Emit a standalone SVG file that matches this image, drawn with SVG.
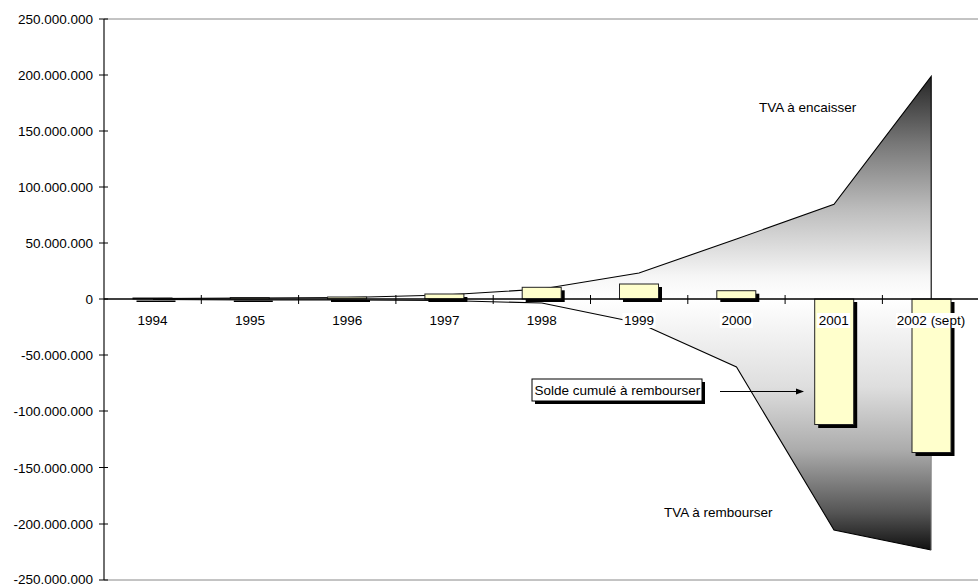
<svg xmlns="http://www.w3.org/2000/svg" width="978" height="586" viewBox="0 0 978 586">
<style>
text{font-family:"Liberation Sans",Arial,sans-serif;font-size:13.5px;fill:#000}
.yl{text-anchor:end}
.xl{text-anchor:middle}
.bar{fill:#FFFFCC;stroke:#222;stroke-width:1}
.sh{fill:#000}
.ln{fill:none;stroke:#000;stroke-width:1.1}
.lbg{fill:#fff}
</style>
<defs>
<linearGradient id="gUp" x1="0" y1="0" x2="0" y2="1">
<stop offset="0" stop-color="#262626"/>
<stop offset="0.3" stop-color="#777"/>
<stop offset="0.6" stop-color="#bdbdbd"/>
<stop offset="0.9" stop-color="#f6f6f6"/>
<stop offset="1" stop-color="#fff"/>
</linearGradient>
<linearGradient id="gDn" x1="0" y1="0" x2="0" y2="1">
<stop offset="0" stop-color="#fff"/>
<stop offset="0.35" stop-color="#dedede"/>
<stop offset="0.6" stop-color="#acacac"/>
<stop offset="0.85" stop-color="#555"/>
<stop offset="1" stop-color="#111"/>
</linearGradient>
<marker id="ah" markerWidth="8" markerHeight="8" refX="7" refY="4" orient="auto" markerUnits="userSpaceOnUse">
<path d="M0,1 L8,4 L0,7 Z" fill="#000"/>
</marker>
</defs>

<g id="frame">
<line x1="104" y1="19" x2="978" y2="19" stroke="#888" stroke-width="1"/>
<line x1="104" y1="580" x2="978" y2="580" stroke="#888" stroke-width="1"/>
</g>

<g id="areas">
<polygon id="tva-encaisser-area" fill="url(#gUp)" points="153,299 153,298.5 250,298 347,297.5 444.5,295 541.8,289 639,273 736.5,239 834,204.3 931.2,76.5 931.2,299"/>
<polygon id="tva-rembourser-area" fill="url(#gDn)" points="153,299 153,299.5 250,300 347,300 444.5,300.5 541.8,303 639,323 736.5,367 834,530 931.2,550 931.2,299"/>
</g>

<g id="connectors">
<polyline class="ln" points="153,298.5 250,298 347,297.5 444.5,295 541.8,289 639,273 736.5,239 834,204.3 931.2,76.5 931.2,299"/>
<polyline class="ln" points="153,299.5 250,300 347,300 444.5,300.5 541.8,303 639,323 736.5,367 834,530 931.2,550"/>
<line x1="931.2" y1="550" x2="931.2" y2="299" stroke="#888" stroke-width="1"/>
<line x1="720" y1="391.5" x2="803" y2="391.5" stroke="#000" stroke-width="1" marker-end="url(#ah)"/>
</g>

<g id="bars">
<g id="bar-1994"><rect class="sh" x="136.5" y="300.5" width="39" height="1.5"/><rect class="bar" x="133" y="298" width="39" height="1"/></g>
<g id="bar-1995"><rect class="sh" x="233.8" y="300.5" width="39" height="1.5"/><rect class="bar" x="230.3" y="297.5" width="39" height="1.5"/></g>
<g id="bar-1996"><rect class="sh" x="331" y="300" width="39" height="2"/><rect class="bar" x="327.6" y="297" width="39" height="2"/></g>
<g id="bar-1997"><rect class="sh" x="428.4" y="297" width="39" height="5"/><rect class="bar" x="424.9" y="294" width="39" height="5"/></g>
<g id="bar-1998"><rect class="sh" x="525.7" y="290.3" width="39" height="11.7"/><rect class="bar" x="522.2" y="287.3" width="39" height="11.7"/></g>
<g id="bar-1999"><rect class="sh" x="623" y="287" width="39" height="15"/><rect class="bar" x="619.5" y="284" width="39" height="15"/></g>
<g id="bar-2000"><rect class="sh" x="720.3" y="293.7" width="39" height="8.3"/><rect class="bar" x="716.8" y="290.7" width="39" height="8.3"/></g>
<g id="bar-2001"><rect class="sh" x="818.2" y="302" width="39" height="126"/><rect class="bar" x="814.7" y="299" width="39" height="125.5"/></g>
<g id="bar-2002"><rect class="sh" x="915.5" y="302" width="39" height="154"/><rect class="bar" x="912" y="299" width="39" height="153.5"/></g>
</g>

<g id="axes" stroke="#000">
<line x1="104" y1="19" x2="104" y2="580" stroke="#222" stroke-width="1.3"/>
<line x1="104" y1="299" x2="978" y2="299" stroke-width="1.5"/>
<g stroke-width="1">
<line x1="99" y1="19" x2="108" y2="19"/>
<line x1="99" y1="75" x2="108" y2="75"/>
<line x1="99" y1="131" x2="108" y2="131"/>
<line x1="99" y1="187" x2="108" y2="187"/>
<line x1="99" y1="243" x2="108" y2="243"/>
<line x1="99" y1="299" x2="108" y2="299"/>
<line x1="99" y1="355" x2="108" y2="355"/>
<line x1="99" y1="411" x2="108" y2="411"/>
<line x1="99" y1="467.5" x2="108" y2="467.5"/>
<line x1="99" y1="524" x2="108" y2="524"/>
<line x1="99" y1="580" x2="108" y2="580"/>
<line x1="201.3" y1="295" x2="201.3" y2="304"/>
<line x1="298.6" y1="295" x2="298.6" y2="304"/>
<line x1="395.9" y1="295" x2="395.9" y2="304"/>
<line x1="493.2" y1="295" x2="493.2" y2="304"/>
<line x1="590.5" y1="295" x2="590.5" y2="304"/>
<line x1="687.8" y1="295" x2="687.8" y2="304"/>
<line x1="785.1" y1="295" x2="785.1" y2="304"/>
<line x1="882.4" y1="295" x2="882.4" y2="304"/>
</g>
</g>

<g id="y-labels">
<text class="yl" x="93" y="24">250.000.000</text>
<text class="yl" x="93" y="80">200.000.000</text>
<text class="yl" x="93" y="136">150.000.000</text>
<text class="yl" x="93" y="192">100.000.000</text>
<text class="yl" x="93" y="248">50.000.000</text>
<text class="yl" x="93" y="304">0</text>
<text class="yl" x="93" y="360">-50.000.000</text>
<text class="yl" x="93" y="416">-100.000.000</text>
<text class="yl" x="93" y="472.5">-150.000.000</text>
<text class="yl" x="93" y="529">-200.000.000</text>
<text class="yl" x="93" y="583.5">-250.000.000</text>
</g>

<g id="x-labels">
<rect class="lbg" x="136" y="313" width="33" height="15"/><text class="xl" x="152.6" y="325">1994</text>
<rect class="lbg" x="233.3" y="313" width="33" height="15"/><text class="xl" x="249.9" y="325">1995</text>
<rect class="lbg" x="330.6" y="313" width="33" height="15"/><text class="xl" x="347.2" y="325">1996</text>
<rect class="lbg" x="427.9" y="313" width="33" height="15"/><text class="xl" x="444.5" y="325">1997</text>
<rect class="lbg" x="525.2" y="313" width="33" height="15"/><text class="xl" x="541.8" y="325">1998</text>
<rect class="lbg" x="622.5" y="313" width="33" height="15"/><text class="xl" x="639.1" y="325">1999</text>
<rect class="lbg" x="719.8" y="313" width="33" height="15"/><text class="xl" x="736.4" y="325">2000</text>
<rect class="lbg" x="817.1" y="313" width="33" height="15"/><text class="xl" x="833.7" y="325">2001</text>
<rect class="lbg" x="896" y="313" width="70" height="15"/><text class="xl" x="931" y="325">2002 (sept)</text>
</g>

<g id="label-encaisser"><text x="759" y="111.5">TVA à encaisser</text></g>
<g id="label-rembourser"><text x="664" y="516.7">TVA à rembourser</text></g>

<g id="solde-box">
<rect x="535" y="382" width="170" height="22" fill="#000"/>
<rect x="532" y="379" width="170" height="22" fill="#fff" stroke="#000" stroke-width="1"/>
<text x="534.5" y="395">Solde cumulé à rembourser</text>
</g>
</svg>
